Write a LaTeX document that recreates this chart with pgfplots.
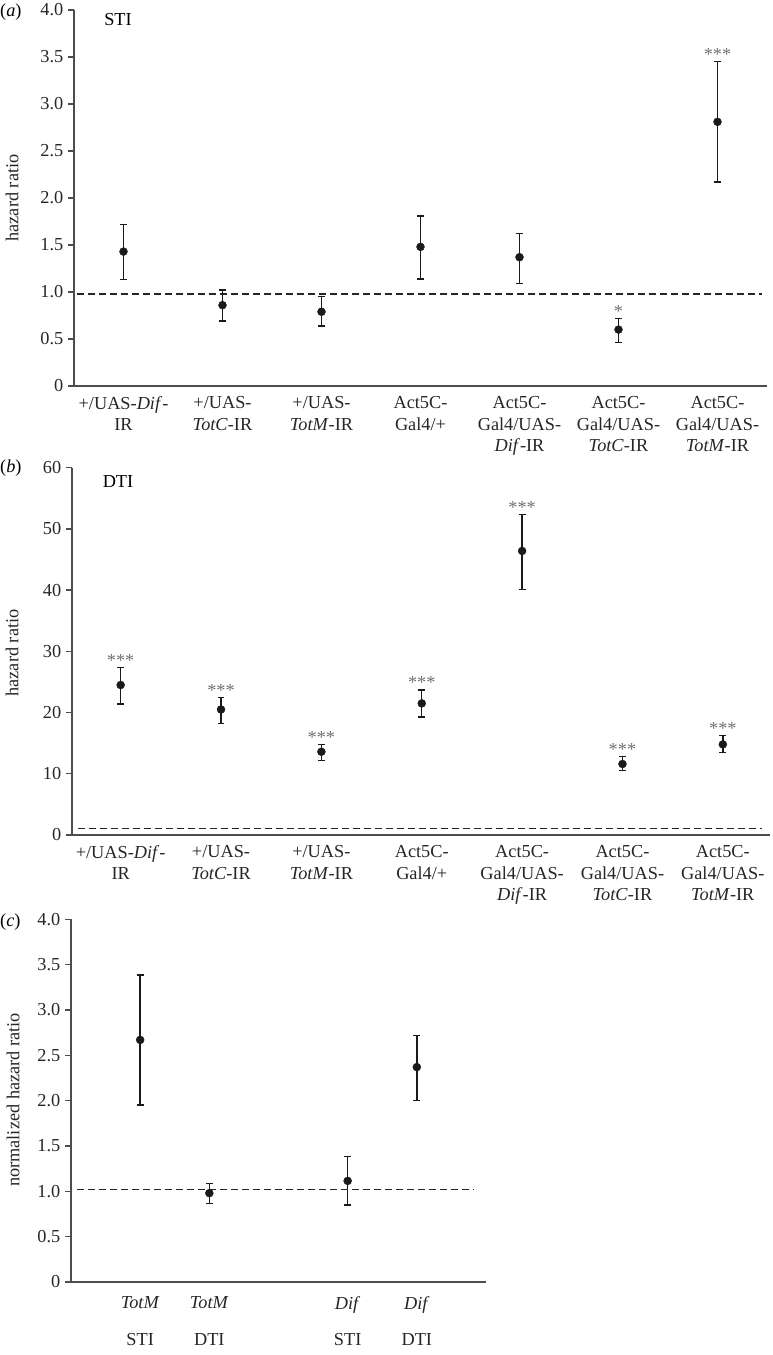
\documentclass[border=0pt]{standalone}
\usepackage{fontspec}
\setmainfont{Liberation Serif}
\usepackage{pgfplots}
\pgfplotsset{compat=1.18}
\definecolor{axisgray}{HTML}{4D4D4D}
\definecolor{stargray}{HTML}{707070}
\definecolor{ptc}{HTML}{1A1A1A}

\pgfplotstableread{
x y ep em
0 1.43 0.285 0.295
1 0.86 0.16 0.17
2 0.79 0.16 0.15
3 1.48 0.33 0.34
4 1.37 0.25 0.28
5 0.60 0.12 0.14
6 2.81 0.64 0.64
}\dataA
\pgfplotstableread{
x y ep em
0 24.5 2.9 3.1
1 20.5 2.0 2.3
2 13.6 1.2 1.4
3 21.5 2.2 2.2
4 46.4 6.0 6.3
5 11.6 1.2 1.1
6 14.8 1.5 1.3
}\dataB
\pgfplotstableread{
x y ep em
1 2.67 0.715 0.72
2 0.98 0.106 0.115
4 1.115 0.272 0.268
5 2.37 0.35 0.37
}\dataC

\pgfplotsset{
  myaxis/.style={
    scale only axis, anchor=south west,
    axis x line*=bottom, axis y line*=left,
    axis line style={draw=axisgray, line width=1.5pt, -},
    ytick align=outside, xtick align=inside, major tick length=6pt,
    ytick style={draw=axisgray, line width=1.3pt},
    xtick style={draw=none},
    tick label style={font=\fontsize{18.3}{21.5}\selectfont, text=black!85},
    /pgf/number format/assume math mode=true,
    yticklabel style={inner sep=4.5pt},
    xticklabel style={align=center, yshift=-7pt},
    clip=false,
  },
  mypts/.style={only marks, mark=*, mark size=4pt, color=ptc,
    error bars/.cd, y dir=both, y explicit,
    error bar style={line width=1.4pt, color=ptc},
    error mark options={rotate=90, line width=1.4pt, mark size=3.4pt, draw=ptc}},
  mydash/.style={draw=black!85, line width=1.4pt, dash pattern=on 7pt off 4pt, no marks},
}
\tikzset{star/.style={anchor=base, inner sep=0pt, yshift=1pt, text=stargray, font=\fontsize{18.3}{21.5}\selectfont}}

\begin{document}
\begin{tikzpicture}[font=\fontsize{18.3}{21.5}\selectfont]
\path[use as bounding box] (0pt,0pt) rectangle (773pt,1355pt);

% panel a
\begin{axis}[myaxis, at={(74pt,969pt)}, width=693pt, height=376pt,
  xmin=-0.5, xmax=6.5, ymin=0, ymax=4,
  ytick={0,0.5,1,1.5,2,2.5,3,3.5,4},
  yticklabels={0,0.5,1.0,1.5,2.0,2.5,3.0,3.5,4.0},
  xtick={0,1,2,3,4,5,6},
  xticklabels={{+/UAS-\textit{Dif}-\\IR},{+/UAS-\\\textit{TotC}-IR},{+/UAS-\\\textit{TotM}-IR},{Act5C-\\Gal4/+},{Act5C-\\Gal4/UAS-\\\textit{Dif}-IR},{Act5C-\\Gal4/UAS-\\\textit{TotC}-IR},{Act5C-\\Gal4/UAS-\\\textit{TotM}-IR}},
]
\addplot[mydash] coordinates {(-0.465,0.98) (6.45,0.98)};
\addplot[mypts] table[x=x, y=y, y error plus=ep, y error minus=em] {\dataA};
\node[star] at (axis cs:5,0.72) {*};
\node[star] at (axis cs:6,3.45) {***};
\end{axis}

% panel b
\begin{axis}[myaxis, at={(72pt,520pt)}, width=698pt, height=367.3pt,
  xmin=-0.485, xmax=6.47, ymin=0, ymax=60,
  ytick={0,10,20,30,40,50,60},
  xtick={0,1,2,3,4,5,6},
  xticklabels={{+/UAS-\textit{Dif}-\\IR},{+/UAS-\\\textit{TotC}-IR},{+/UAS-\\\textit{TotM}-IR},{Act5C-\\Gal4/+},{Act5C-\\Gal4/UAS-\\\textit{Dif}-IR},{Act5C-\\Gal4/UAS-\\\textit{TotC}-IR},{Act5C-\\Gal4/UAS-\\\textit{TotM}-IR}},
]
\addplot[mydash] coordinates {(-0.43,1.1) (6.39,1.1)};
\addplot[mypts] table[x=x, y=y, y error plus=ep, y error minus=em] {\dataB};
\node[star] at (axis cs:0,27.4) {***};
\node[star] at (axis cs:1,22.5) {***};
\node[star] at (axis cs:2,14.8) {***};
\node[star] at (axis cs:3,23.7) {***};
\node[star] at (axis cs:4,52.4) {***};
\node[star] at (axis cs:5,12.8) {***};
\node[star] at (axis cs:6,16.3) {***};
\end{axis}

% panel c
\begin{axis}[myaxis, at={(71pt,73pt)}, width=415pt, height=362.7pt,
  xmin=0, xmax=6, ymin=0, ymax=4,
  ytick={0,0.5,1,1.5,2,2.5,3,3.5,4},
  yticklabels={0,0.5,1.0,1.5,2.0,2.5,3.0,3.5,4.0},
  xtick={1,2,4,5},
  xticklabels={{\textit{TotM}\\[15pt]STI},{\textit{TotM}\\[15pt]DTI},{\textit{Dif}\\[15pt]STI},{\textit{Dif}\\[15pt]DTI}},
  xticklabel style={yshift=-4pt},
]
\addplot[mydash] coordinates {(0.087,1.02) (5.83,1.02)};
\addplot[mypts] table[x=x, y=y, y error plus=ep, y error minus=em] {\dataC};
\end{axis}

% outer text
\node[anchor=west, inner sep=0pt] at (0pt,1343pt) {(\textit{a})};
\node[anchor=west, inner sep=0pt] at (0pt,887pt) {(\textit{b})};
\node[anchor=west, inner sep=0pt] at (0pt,433pt) {(\textit{c})};
\node at (118pt,1335pt) {STI};
\node at (118pt,873pt) {DTI};
\node[rotate=90, text=black!85] at (12pt,1157pt) {hazard ratio};
\node[rotate=90, text=black!85] at (12pt,702pt) {hazard ratio};
\node[rotate=90, text=black!85] at (13pt,255pt) {normalized hazard ratio};
\end{tikzpicture}
\end{document}
